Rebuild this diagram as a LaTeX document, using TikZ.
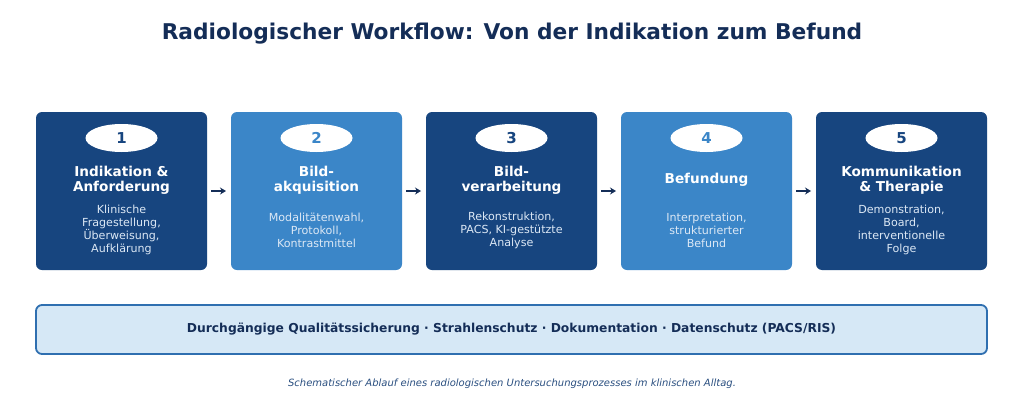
\documentclass[tikz,border=0pt]{standalone}
\usepackage{fontspec}
\setmainfont{DejaVu Sans}
\usetikzlibrary{shapes.geometric,arrows.meta}
\definecolor{darkbox}{HTML}{17457F}
\definecolor{lightbox}{HTML}{3B86C8}
\definecolor{navy}{HTML}{142D57}
\definecolor{bodytxt}{HTML}{DCE8F5}
\definecolor{bannerfill}{HTML}{D6E8F6}
\definecolor{bannerline}{HTML}{2F6FB0}
\definecolor{captxt}{HTML}{2A4F80}
\tikzset{
  stepbox/.style={rectangle, rounded corners=6pt, minimum width=171pt, minimum height=158pt, inner sep=0pt, outer sep=0pt, draw=none},
  numoval/.style={ellipse, fill=white, minimum width=72pt, minimum height=28pt, inner sep=0pt, font=\fontsize{15}{17}\selectfont\bfseries},
  steptitle/.style={align=center, text=white, font=\fontsize{13.6}{15}\selectfont\bfseries, inner sep=0pt},
  stepbody/.style={align=center, text=bodytxt, font=\fontsize{11.1}{13}\selectfont, inner sep=0pt},
  flowarrow/.style={-{Stealth[length=6pt,width=7pt]}, line width=2.2pt, draw=navy, shorten <=4pt, shorten >=5pt}
}
\begin{document}
\begin{tikzpicture}[x=1pt,y=-1pt]
\useasboundingbox (0,0) rectangle (1024,415);
\fill[white] (0,0) rectangle (1024,415);
\node[text=navy, font=\fontsize{21.7}{24}\selectfont\bfseries, inner sep=0pt] (title) at (512,33.5) {Radiologischer Workflow: Von der Indikation zum Befund};
% boxes
\node[stepbox, fill=darkbox] (b1) at (121.5,191) {};
\node[stepbox, fill=lightbox] (b2) at (316.5,191) {};
\node[stepbox, fill=darkbox] (b3) at (511.5,191) {};
\node[stepbox, fill=lightbox] (b4) at (706.5,191) {};
\node[stepbox, fill=darkbox] (b5) at (901.5,191) {};
% numbers
\node[numoval, text=darkbox] (n1) at (121.5,138) {1};
\node[numoval, text=lightbox] (n2) at (316.5,138) {2};
\node[numoval, text=darkbox] (n3) at (511.5,138) {3};
\node[numoval, text=lightbox] (n4) at (706.5,138) {4};
\node[numoval, text=darkbox] (n5) at (901.5,138) {5};
% titles
\node[steptitle] (t1) at (121.5,180) {Indikation \&\\Anforderung};
\node[steptitle] (t2) at (316.5,180) {Bild-\\akquisition};
\node[steptitle] (t3) at (511.5,180) {Bild-\\verarbeitung};
\node[steptitle] (t4) at (706.5,180) {Befundung};
\node[steptitle] (t5) at (901.5,180) {Kommunikation\\\& Therapie};
% bodies
\node[stepbody] (d1) at (121.5,230) {Klinische\\Fragestellung,\\Überweisung,\\Aufklärung};
\node[stepbody] (d2) at (316.5,230.5) {Modalitätenwahl,\\Protokoll,\\Kontrastmittel};
\node[stepbody] (d3) at (511.5,230.5) {Rekonstruktion,\\PACS, KI-gestützte\\Analyse};
\node[stepbody] (d4) at (706.5,230.5) {Interpretation,\\strukturierter\\Befund};
\node[stepbody] (d5) at (901.5,230) {Demonstration,\\Board,\\interventionelle\\Folge};
% arrows
\draw[flowarrow] (b1.east) -- (b2.west);
\draw[flowarrow] (b2.east) -- (b3.west);
\draw[flowarrow] (b3.east) -- (b4.west);
\draw[flowarrow] (b4.east) -- (b5.west);
% banner
\node[rectangle, rounded corners=6pt, fill=bannerfill, draw=bannerline, line width=1.8pt, minimum width=951pt, minimum height=49pt, inner sep=0pt] (banner) at (511.5,329.5) {};
\node[text=navy, font=\fontsize{12.3}{14}\selectfont\bfseries, inner sep=0pt] (bannertxt) at (banner.center) {Durchgängige Qualitätssicherung · Strahlenschutz · Dokumentation · Datenschutz (PACS/RIS)};
% caption
\node[text=captxt, font=\fontsize{10}{12}\selectfont\itshape, inner sep=0pt] (caption) at (512,384) {Schematischer Ablauf eines radiologischen Untersuchungsprozesses im klinischen Alltag.};
\end{tikzpicture}
\end{document}
